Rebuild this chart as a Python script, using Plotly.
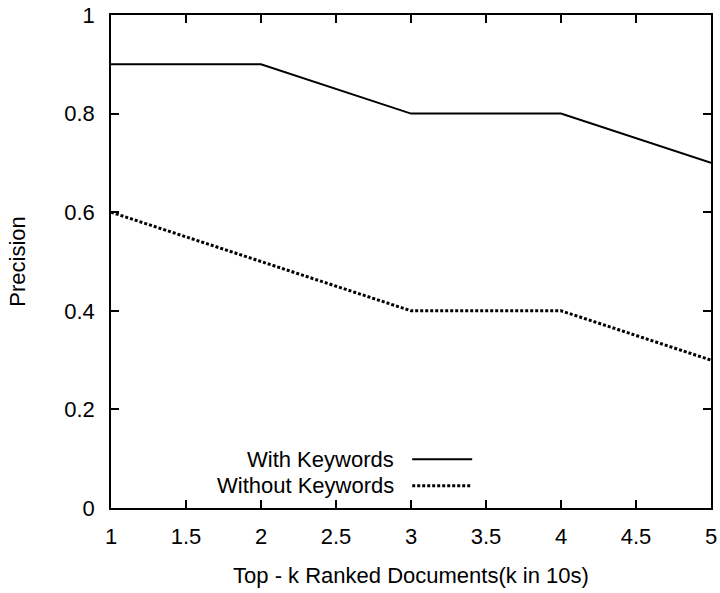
import plotly.graph_objects as go

# Precision at top-k ranked documents (k in tens)
k_values = [1, 2, 3, 4, 5]
with_keywords = [0.9, 0.9, 0.8, 0.8, 0.7]
without_keywords = [0.6, 0.5, 0.4, 0.4, 0.3]
series_names = ["With Keywords", "Without Keywords"]

FONT = "Liberation Sans, Arial, Helvetica, sans-serif"

fig = go.Figure()
fig.add_trace(go.Scatter(
    x=k_values, y=with_keywords, mode="lines", name=series_names[0],
    line=dict(color="black", width=2), showlegend=False,
))
fig.add_trace(go.Scatter(
    x=k_values, y=without_keywords, mode="lines", name=series_names[1],
    line=dict(color="black", width=3, dash="3px,2px"), showlegend=False,
))

# gnuplot-style key: text on the left, line sample on the right
key_rows = [(series_names[0], 0.099, "solid", 2), (series_names[1], 0.045, "3px,2px", 3)]
for label, ypos, dash, w in key_rows:
    fig.add_annotation(
        x=0.475, y=ypos, xref="paper", yref="paper", text=label,
        showarrow=False, xanchor="right", yanchor="middle",
        font=dict(family=FONT, size=22, color="black"),
    )
    fig.add_shape(
        type="line", xref="paper", yref="paper",
        x0=0.502, x1=0.602, y0=ypos, y1=ypos,
        line=dict(color="black", width=w, dash=dash),
    )

axis_common = dict(
    showgrid=False, zeroline=False, showline=True, linecolor="black",
    linewidth=1.5, mirror="ticks", ticks="inside", ticklen=8,
    tickwidth=1.5, tickcolor="black", automargin=False,
    tickfont=dict(family=FONT, size=22, color="black"),
)

fig.update_layout(
    width=720, height=593,
    margin=dict(l=111, r=9, t=15, b=85),
    paper_bgcolor="white", plot_bgcolor="white",
    font=dict(family=FONT, size=22, color="black"),
    xaxis=dict(
        range=[1, 5], tick0=1, dtick=0.5, ticklabelstandoff=8,
        title=dict(text="Top - k Ranked Documents(k in 10s)",
                   font=dict(family=FONT, size=22, color="black"), standoff=19),
        **axis_common,
    ),
    yaxis=dict(
        range=[0, 1], tick0=0, dtick=0.2, ticklabelstandoff=10,
        title=dict(text="Precision",
                   font=dict(family=FONT, size=22, color="black"), standoff=33),
        **axis_common,
    ),
)

fig.write_html("out.html")
